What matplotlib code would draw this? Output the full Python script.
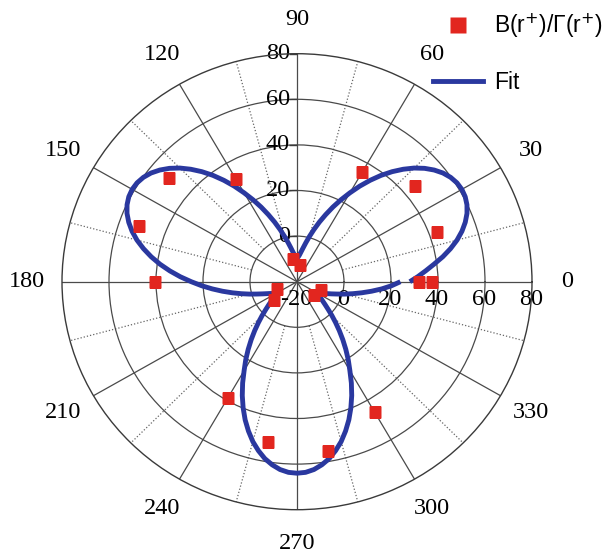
import numpy as np
import matplotlib
matplotlib.use("Agg")
import matplotlib.pyplot as plt
from matplotlib.lines import Line2D
from matplotlib.transforms import offset_copy

# ---------------- data ----------------
point_angles = [0, 20, 40, 60, 80, 100, 120, 140, 160, 180,
                200, 220, 240, 260, 280, 300, 320, 340, 360]
point_values = [32.0, 43.5, 45.5, 35.5, -12.5, -10.0, 32.0, 51.0, 51.5, 40.5,
                -11.0, -7.5, 39.0, 51.5, 55.5, 46.0, -10.7, -9.0, 37.5]

fit_step = 2.5
fit_values = [
    # 0 .. 60
    28.0, 31.5, 35.0, 38.8, 43.0, 46.9, 50.5, 53.6, 56.2, 58.3, 59.8, 60.7, 61.0,
    60.7, 59.8, 58.3, 56.2, 53.6, 50.5, 46.9, 43.0, 38.8, 34.3, 29.7, 25.0,
    # 62.5 .. 120
    20.5, 16.1, 11.8, 7.8, 4.0, 0.6, -2.4, -4.9, -6.9, -8.3, -9.2, -9.5,
    -9.2, -8.3, -6.9, -4.9, -2.4, 0.6, 4.0, 7.8, 11.8, 16.1, 20.5, 25.0,
    # 122.5 .. 180
    29.7, 34.3, 38.8, 43.0, 46.9, 50.5, 53.6, 56.2, 58.3, 59.8, 60.7, 61.0,
    60.7, 59.8, 58.3, 56.2, 53.6, 50.5, 46.9, 43.0, 38.8, 34.3, 29.7, 25.0,
    # 182.5 .. 240
    20.6, 16.2, 12.0, 8.0, 4.3, 1.0, -2.0, -4.4, -6.4, -7.8, -8.7, -9.0,
    -8.7, -7.8, -6.4, -4.4, -2.0, 1.0, 4.3, 8.0, 12.0, 16.2, 20.6, 25.0,
    # 242.5 .. 300
    30.1, 35.1, 39.9, 44.5, 48.7, 52.6, 55.9, 58.8, 61.0, 62.7, 63.7, 64.0,
    63.7, 62.7, 61.0, 58.8, 55.9, 52.6, 48.7, 44.5, 39.9, 35.1, 30.1, 25.0,
    # 302.5 .. 360
    20.6, 16.2, 12.0, 8.0, 4.3, 1.0, -2.0, -4.4, -6.4, -7.8, -8.7, -9.0,
    -8.7, -7.8, -6.4, -4.4, -2.0, 1.0, 4.3, 8.0, 12.0, 16.2, 20.3, 24.0,
]
fit_angles = [i * fit_step for i in range(len(fit_values))]

angle_labels = list(range(0, 360, 30))
ring_values = [0, 20, 40, 60]
radial_tick_values = [-20, 0, 20, 40, 60, 80]
vertical_tick_values = [0, 20, 40, 60, 80]
r_min, r_max = -20, 80

legend_points = "B(r$^{+}$)/Γ(r$^{+}$)"
legend_fit = "Fit"

# ---------------- styling ----------------
RED = "#e2261f"
BLUE = "#2a389f"
GRID = "#4a4a4a"
SERIF = ["Liberation Serif", "DejaVu Serif"]
SANS = ["Liberation Sans", "DejaVu Sans"]
LABEL_SIZE = 17.5

fig = plt.figure(figsize=(6.04, 5.57), dpi=100)
cx, cy = 297, 557 - 281.7
rx, ry = 235, 228
ax = fig.add_axes([(cx - rx) / 604, (cy - ry) / 557, 2 * rx / 604, 2 * ry / 557],
                  projection="polar")
ax.set_aspect("auto")
ax.set_theta_zero_location("E")
ax.set_theta_direction(1)
ax.set_ylim(r_min, r_max)

ax.set_xticks(np.deg2rad(angle_labels))
ax.set_xticklabels([])
ax.set_yticks(ring_values)
ax.set_yticklabels([])
ax.tick_params(length=0)
ax.grid(True, color=GRID, lw=0.9, ls="-")
ax.spines["polar"].set_color("#3a3a3a")
ax.spines["polar"].set_linewidth(1.0)

# minor dotted spokes
for a in range(15, 360, 30):
    ax.plot([np.deg2rad(a)] * 2, [0, r_max], color="#666666", lw=0.9,
            ls=(0, (1, 1.6)), zorder=1)

# angle labels
for a in angle_labels:
    ax.text(np.deg2rad(a), r_max + 15, str(a), ha="center", va="center",
            fontsize=LABEL_SIZE, family=SERIF, clip_on=False)

# radial labels along 0 deg (below the axis)
trans_below = offset_copy(ax.transData, fig=fig, x=-1, y=-7, units="dots")
for v in radial_tick_values:
    ax.text(0, v, str(v), ha="center", va="top", fontsize=LABEL_SIZE, family=SERIF,
            transform=trans_below, clip_on=False, zorder=2)

# radial labels along 90 deg (left of the axis, with ticks)
trans_left = offset_copy(ax.transData, fig=fig, x=-7, y=0, units="dots")
for v in vertical_tick_values:
    ax.text(np.pi / 2, v, str(v), ha="right", va="center", fontsize=LABEL_SIZE,
            family=SERIF, transform=trans_left, clip_on=False, zorder=2)
    ax.plot(np.pi / 2, v, marker=0, markersize=6, mew=1.0, color="#3a3a3a",
            clip_on=False, zorder=2)

# fit curve
ax.plot(np.deg2rad(fit_angles), fit_values, color=BLUE, lw=3.5,
        solid_capstyle="butt", solid_joinstyle="round", zorder=3)
# data points
ax.plot(np.deg2rad(point_angles), point_values, ls="none", marker="s",
        markersize=8.5, color=RED, mec="none", zorder=4)

handles = [Line2D([], [], ls="none", marker="s", markersize=11.5, color=RED, mec="none"),
           Line2D([], [], color=BLUE, lw=3.5)]
fig.legend(handles, [legend_points, legend_fit], loc="upper left",
           bbox_to_anchor=(433 / 604, 1 - 11 / 557), frameon=False,
           prop={"family": SANS, "size": 16.5}, handlelength=2.2,
           handletextpad=0.45, labelspacing=1.35, borderpad=0, borderaxespad=0)

fig.savefig("out.png", dpi=100)
